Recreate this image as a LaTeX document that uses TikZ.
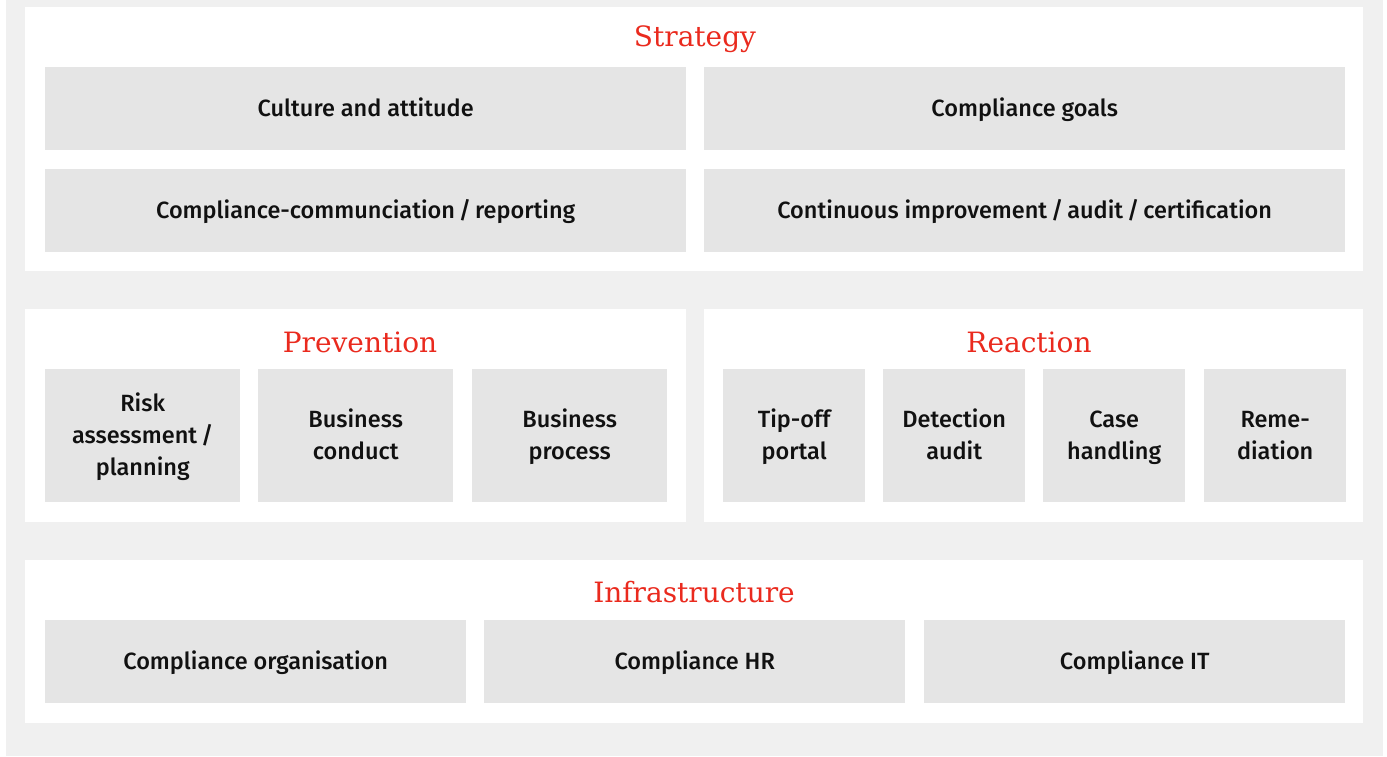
\documentclass[tikz,border=0pt]{standalone}
\usepackage{fontspec}
\setmainfont{Fira Sans}[BoldFont={Fira Sans Medium}]
\newfontfamily\titlefont{DejaVu Serif}
\definecolor{bggray}{HTML}{F0F0F0}
\definecolor{boxgray}{HTML}{E5E5E5}
\definecolor{titlered}{HTML}{EA2A1E}
\definecolor{txt}{HTML}{111111}
\newcommand\lnstrut{\rule[-6pt]{0pt}{28pt}}
\tikzset{
  panel/.style={fill=white, draw=none, inner sep=0pt, anchor=north west},
  box/.style={fill=boxgray, draw=none, inner sep=0pt, anchor=north west, align=center,
    text=txt, font=\bfseries\fontsize{23.5}{32}\selectfont},
  ttl/.style={text=titlered, font=\titlefont\fontsize{28}{30}\selectfont, inner sep=0pt}
}
\begin{document}
\begin{tikzpicture}[x=1pt,y=-1pt]
\useasboundingbox (0,0) rectangle (1387,756);
\fill[bggray] (6,0) rectangle (1383,756);
% panels
\node[panel, minimum width=1338, minimum height=264] (pS) at (25,7) {};
\node[panel, minimum width=661, minimum height=213] (pP) at (25,309) {};
\node[panel, minimum width=659, minimum height=213] (pR) at (704,309) {};
\node[panel, minimum width=1338, minimum height=163] (pI) at (25,560) {};
% titles
\node[ttl] (tS) at (695,39) {Strategy};
\node[ttl] (tP) at (360,342) {Prevention};
\node[ttl] (tR) at (1029,342) {Reaction};
\node[ttl] (tI) at (694,592) {Infrastructure};
% strategy boxes
\node[box, minimum width=641, minimum height=83] (s1) at (45,67) {\lnstrut Culture and attitude};
\node[box, minimum width=641, minimum height=83] (s2) at (704,67) {\lnstrut Compliance goals};
\node[box, minimum width=641, minimum height=83] (s3) at (45,169) {\lnstrut Compliance-communciation\,/\,reporting};
\node[box, minimum width=641, minimum height=83] (s4) at (704,169) {\lnstrut Continuous improvement\,/\,audit\,/\,certification};
% prevention boxes
\node[box, minimum width=195, minimum height=133] (p1) at (45,369) {\lnstrut Risk\\\lnstrut assessment\,/\\\lnstrut planning};
\node[box, minimum width=195, minimum height=133] (p2) at (258,369) {\lnstrut Business\\\lnstrut conduct};
\node[box, minimum width=195, minimum height=133] (p3) at (472,369) {\lnstrut Business\\\lnstrut process};
% reaction boxes
\node[box, minimum width=142, minimum height=133] (r1) at (723,369) {\lnstrut Tip-off\\\lnstrut portal};
\node[box, minimum width=142, minimum height=133] (r2) at (883,369) {\lnstrut Detection\\\lnstrut audit};
\node[box, minimum width=142, minimum height=133] (r3) at (1043,369) {\lnstrut Case\\\lnstrut handling};
\node[box, minimum width=142, minimum height=133] (r4) at (1204,369) {\lnstrut Reme-\\\lnstrut diation};
% infrastructure boxes
\node[box, minimum width=421, minimum height=83] (i1) at (45,620) {\lnstrut Compliance organisation};
\node[box, minimum width=421, minimum height=83] (i2) at (484,620) {\lnstrut Compliance HR};
\node[box, minimum width=421, minimum height=83] (i3) at (924,620) {\lnstrut Compliance IT};
\end{tikzpicture}
\end{document}
